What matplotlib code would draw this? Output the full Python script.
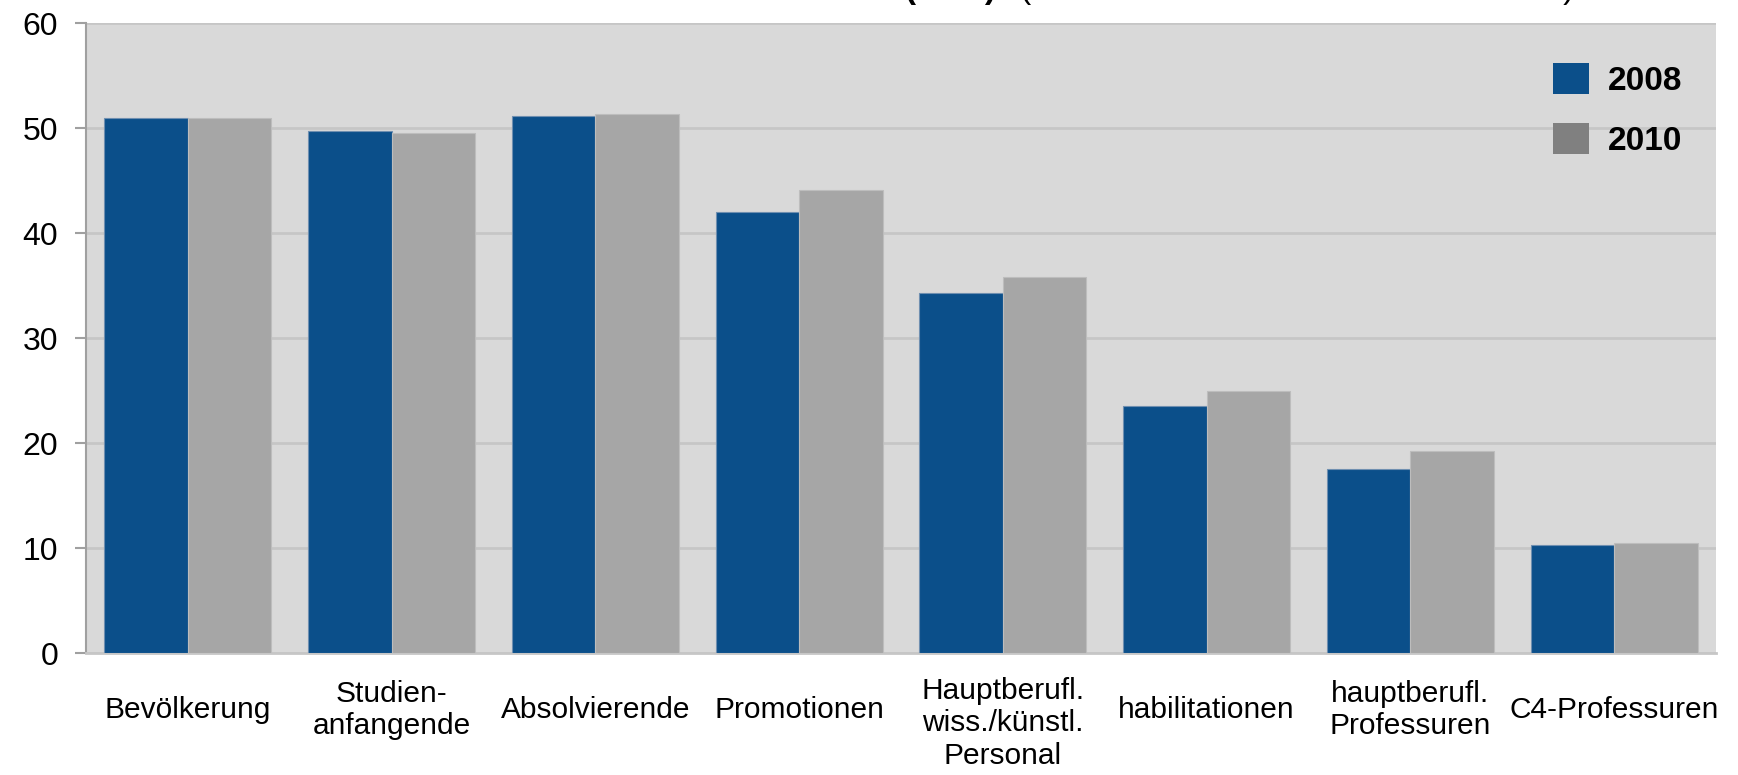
import matplotlib.pyplot as plt
import matplotlib.transforms as mtransforms
from matplotlib.patches import Patch
import numpy as np

plt.rcParams['font.family'] = ['Liberation Sans', 'DejaVu Sans']

# Daten (Frauenanteile in %)
kategorien = ['Bevölkerung', 'Studien-\nanfangende', 'Absolvierende', 'Promotionen',
              'Hauptberufl.\nwiss./künstl.\nPersonal', 'habilitationen',
              'hauptberufl.\nProfessuren', 'C4-Professuren']
werte_2008 = [51.0, 49.7, 51.1, 42.0, 34.3, 23.5, 17.5, 10.3]
werte_2010 = [51.0, 49.5, 51.3, 44.1, 35.8, 25.0, 19.2, 10.5]
jahre = ['2008', '2010']

blau = '#0B4F8A'
grau = '#A6A6A6'

fig = plt.figure(figsize=(17.38, 7.75), dpi=100)
ax = fig.add_axes([0.0495, 0.1574, 0.9378, 0.8129])
ax.set_facecolor('#D9D9D9')

x = np.arange(len(kategorien))
breite = 0.41
ax.bar(x - breite / 2, werte_2008, breite, color=blau, edgecolor='#6F8FB0', linewidth=0.8, zorder=3)
ax.bar(x + breite / 2, werte_2010, breite, color=grau, edgecolor='#BDBDBD', linewidth=0.8, zorder=3)

ax.set_xlim(-0.5, len(kategorien) - 0.5)
ax.set_ylim(0, 60)
ax.set_yticks(range(0, 61, 10))
ax.yaxis.grid(True, color='#C6C6C6', linewidth=2, zorder=1)
ax.set_axisbelow(True)

for s in ['top', 'right']:
    ax.spines[s].set_visible(False)
ax.spines['left'].set_color('#A0A0A0')
ax.spines['left'].set_linewidth(1.5)
ax.spines['bottom'].set_color('#C6C6C6')
ax.spines['bottom'].set_linewidth(2)

ax.tick_params(axis='y', length=8, width=1.5, color='#A0A0A0', labelsize=23, pad=12)
ax.set_xticks(x)
ax.set_xticklabels(kategorien, fontsize=21.5, linespacing=1.22)
ax.tick_params(axis='x', length=0, pad=41)
for lbl in ax.get_xticklabels():
    lbl.set_verticalalignment('center')
    if lbl.get_text().count('\n') == 2:
        lbl.set_verticalalignment('top')
        lbl.set_transform(lbl.get_transform() + mtransforms.ScaledTranslation(0, 24 / 72, fig.dpi_scale_trans))

# Legende
handles = [Patch(facecolor=blau), Patch(facecolor='#808080')]
leg = fig.legend(handles, jahre, loc='upper left', bbox_to_anchor=(1536 / 1738, 1 - 46 / 775),
                 frameon=False, borderpad=0, handlelength=1.1, handleheight=1.05,
                 handletextpad=0.55, labelspacing=0.8, prop={'size': 24, 'weight': 'bold'})

# Titel (oben abgeschnitten wie im Original)
ty = 1 + 2 / 775
fig.text(173 / 1738, ty, 'Frauenanteile nach akademischer Laufbahn', fontsize=24, va='baseline')
fig.text(905 / 1738, ty, '(in %)', fontsize=24, fontweight='bold', va='baseline')
fig.text(1020 / 1738, ty, '(Statistisches Bundesamt 2008/2010)', fontsize=24, va='baseline')

fig.savefig('out.png', dpi=100)
